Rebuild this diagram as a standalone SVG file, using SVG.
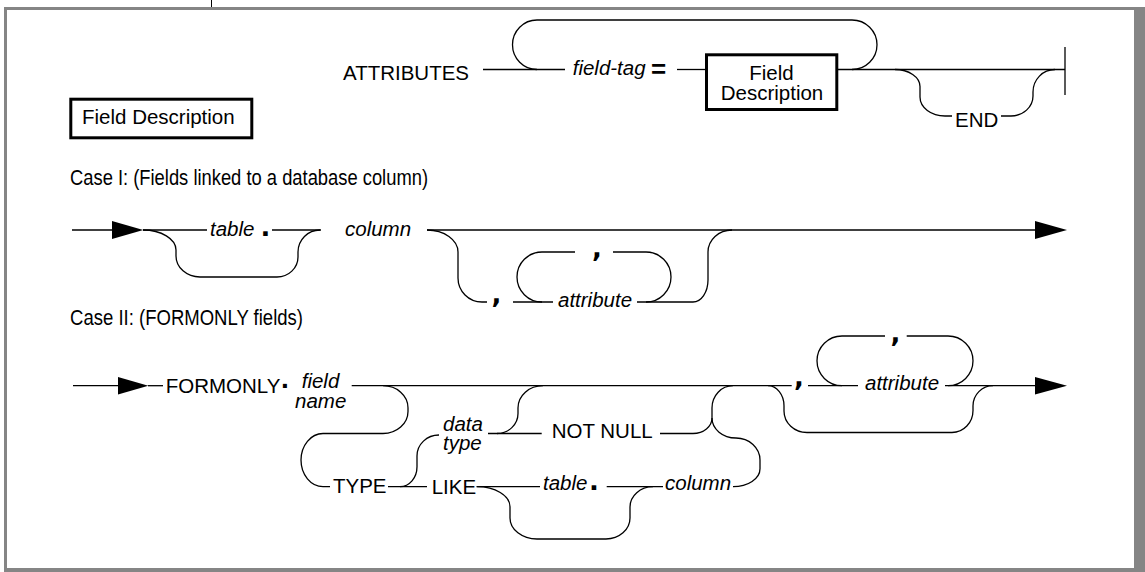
<svg xmlns="http://www.w3.org/2000/svg" width="1145" height="572" viewBox="0 0 1145 572">
<style>
.ln{fill:none;stroke:#000;stroke-width:1.3}
.t{font-family:"Liberation Sans",Arial,sans-serif;font-size:20.5px;fill:#000}
.i{font-style:italic}
.c{font-size:21.5px}
.box{fill:#fff;stroke:#000;stroke-width:3}
.dot{font-family:"Liberation Sans",Arial,sans-serif;font-weight:bold;fill:#000}
.cm{font-family:"DejaVu Sans",sans-serif;font-weight:bold;font-size:26px;fill:#000;text-anchor:middle}
.ar{fill:#000}
.frame{fill:#858585}
</style>
<rect width="1145" height="572" fill="#fff"/>
<g id="frame">
<rect class="frame" x="4" y="7" width="1141" height="3"/>
<rect class="frame" x="4" y="7" width="3" height="565"/>
<rect class="frame" x="1134" y="7" width="11" height="565"/>
<rect class="frame" x="4" y="568" width="1141" height="4"/>
<line x1="211.5" y1="0" x2="211.5" y2="7" stroke="#000" stroke-width="1"/>
</g>
<g id="connectors">
<!-- top syntax -->
<path class="ln" d="M483,69.5 L565,69.5"/>
<path class="ln" d="M537,69.5 A24.5,24.75 0 0 1 537,20 L852,20 A25,24.75 0 0 1 852,69.5"/>
<path class="ln" d="M677,69.5 L705,69.5"/>
<path class="ln" d="M838,69.5 L1065,69.5"/>
<path class="ln" d="M1065,47 L1065,95" stroke-width="1.6"/>
<path class="ln" d="M895,69.5 A25,17 0 0 1 920,86.5 L920,97 A25,19 0 0 0 945,116 L952,116"/>
<path class="ln" d="M1001,116 L1011,116 A22,20 0 0 0 1033,96 L1033,92 A22,22.5 0 0 1 1055,69.5"/>
<!-- case I -->
<path class="ln" d="M72,230 L113,230"/>
<polygon class="ar" points="112,221 143.3,230 112,239"/>
<path class="ln" d="M143,230 L207,230"/>
<path class="ln" d="M272,230 L321,230"/>
<path class="ln" d="M143,230 A33,20 0 0 1 176,250 L176,256 A24,21 0 0 0 200,277 L277,277 A21,20 0 0 0 298,257 L298,252 A22,22 0 0 1 320,230"/>
<path class="ln" d="M427,230 L1036,230"/>
<polygon class="ar" points="1035,221 1067,230 1035,239"/>
<path class="ln" d="M427,230 A31,22 0 0 1 458,252 L458,278 A24,24 0 0 0 482,302 L487,302"/>
<path class="ln" d="M513,302 L553,302"/>
<path class="ln" d="M637,302 L693,302 A15,22 0 0 0 708,280 L708,252 A24,22 0 0 1 732,230"/>
<path class="ln" d="M542,302 A25,25 0 0 1 542,252 L575,252"/>
<path class="ln" d="M613,252 L646,252 A25,25 0 0 1 646,302"/>
<!-- case II -->
<path class="ln" d="M73,385.7 L119,385.7"/>
<polygon class="ar" points="118,377 148.3,385.7 118,394.5"/>
<path class="ln" d="M148,385.7 L163,385.7"/>
<path class="ln" d="M351.7,385.7 L791.7,385.7"/>
<path class="ln" d="M383,385.7 A25,22 0 0 1 408,407.7 L408,411.5 A25,22 0 0 1 383,433.5 L323,433.5 A22,26.6 0 0 0 323,486.7 L330,486.7"/>
<path class="ln" d="M388,486.7 L427,486.7"/>
<path class="ln" d="M400,486.7 A17,20 0 0 0 417,466.7 L417,456 A22,21 0 0 1 439,435"/>
<path class="ln" d="M488,433.5 L541.7,433.5"/>
<path class="ln" d="M497,433.5 A21,20 0 0 0 518,413.5 L518,408 A25,22.3 0 0 1 543,385.7"/>
<path class="ln" d="M660,433.5 L693,433.5 A19,15.5 0 0 0 712,418 L712,408 A21,22.3 0 0 1 733,385.7"/>
<path class="ln" d="M476.7,486.7 L540,486.7"/>
<path class="ln" d="M606.7,486.7 L663,486.7"/>
<path class="ln" d="M476.7,486.7 A33,20 0 0 1 510,506.7 L510,518 A27,21 0 0 0 537,539 L606,539 A24,21 0 0 0 630,518 L630,507 A23,20.3 0 0 1 653,486.7"/>
<path class="ln" d="M733,486.7 A27,18 0 0 0 760,468.7 L760,460 A24,22 0 0 0 736,438 A24,20 0 0 1 712,418"/>
<path class="ln" d="M808,385.7 L858,385.7"/>
<path class="ln" d="M842,385.7 A25,24.85 0 0 1 842,336 L885,336"/>
<path class="ln" d="M906.7,336 L948,336 A25,24.85 0 0 1 948,385.7"/>
<path class="ln" d="M945,385.7 L1036,385.7"/>
<polygon class="ar" points="1035,377 1067,385.7 1035,394.5"/>
<path class="ln" d="M768,385.7 A16,20 0 0 1 784,405.7 L784,411 A23,21.5 0 0 0 807,432.5 L952,432.5 A21,22 0 0 0 973,410.5 L973,406 A20,20.3 0 0 1 993,385.7"/>
</g>
<g id="n-legend">
<rect class="box" x="70.8" y="99.2" width="181" height="38.6"/>
<text class="t" x="82" y="124">Field Description</text>
</g>
<g id="n-attributes"><text class="t" x="343" y="80">ATTRIBUTES</text></g>
<g id="n-fieldtag">
<text class="t i" x="572.7" y="75">field-tag</text>
<text class="dot" x="651" y="78" font-size="26">=</text>
</g>
<g id="n-fielddesc">
<rect class="box" x="706.5" y="54.8" width="130.3" height="54.7"/>
<text class="t" x="771.5" y="80" text-anchor="middle">Field</text>
<text class="t" x="772" y="99.5" text-anchor="middle">Description</text>
</g>
<g id="n-end"><text class="t" x="955" y="126.5">END</text></g>
<g id="n-case1"><text class="t c" x="70" y="185" textLength="358" lengthAdjust="spacingAndGlyphs">Case I: (Fields linked to a database column)</text></g>
<g id="n-c1-table">
<text class="t i" x="210" y="235.5">table</text>
<text class="dot" x="261" y="235.7" font-size="32">.</text>
</g>
<g id="n-c1-column"><text class="t i" x="345" y="236">column</text></g>
<g id="n-c1-comma1"><text class="cm" x="496.5" y="302.5">,</text></g>
<g id="n-c1-comma2"><text class="cm" x="597" y="257">,</text></g>
<g id="n-c1-attribute"><text class="t i" x="558" y="306.7">attribute</text></g>
<g id="n-case2"><text class="t c" x="70" y="325" textLength="233" lengthAdjust="spacingAndGlyphs">Case II: (FORMONLY fields)</text></g>
<g id="n-formonly">
<text class="t" x="165.7" y="392.7">FORMONLY</text>
<text class="dot" x="281" y="388" font-size="28">.</text>
</g>
<g id="n-fieldname">
<text class="t i" x="301.7" y="388">field</text>
<text class="t i" x="295" y="407.5">name</text>
</g>
<g id="n-type"><text class="t" x="333" y="493.3">TYPE</text></g>
<g id="n-datatype">
<text class="t i" x="443" y="430.7">data</text>
<text class="t i" x="443" y="450">type</text>
</g>
<g id="n-notnull"><text class="t" x="551.7" y="437.7">NOT NULL</text></g>
<g id="n-like"><text class="t" x="431.7" y="494">LIKE</text></g>
<g id="n-c2-table">
<text class="t i" x="543" y="490">table</text>
<text class="dot" x="589.5" y="489.5" font-size="32">.</text>
</g>
<g id="n-c2-column"><text class="t i" x="665" y="490">column</text></g>
<g id="n-c2-comma1"><text class="cm" x="799" y="385.8">,</text></g>
<g id="n-c2-comma2"><text class="cm" x="895.5" y="341.7">,</text></g>
<g id="n-c2-attribute"><text class="t i" x="865" y="390">attribute</text></g>
</svg>
